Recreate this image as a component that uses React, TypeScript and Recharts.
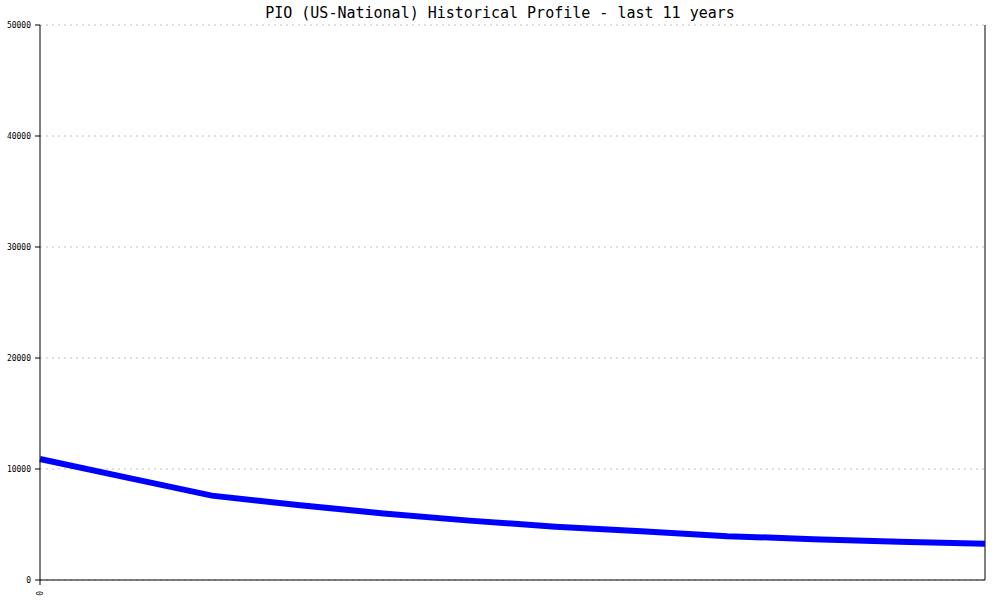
import React from "react";
import { LineChart, Line, XAxis, YAxis, CartesianGrid, ReferenceLine } from "recharts";

const years = [0, 1, 2, 3, 4, 5, 6, 7, 8, 9, 10, 11];
const pioValues = [10900, 9250, 7600, 6750, 6000, 5350, 4800, 4400, 3950, 3680, 3450, 3270];
const yTicks = [0, 10000, 20000, 30000, 40000, 50000];
const xTicks = [0];
const title = "PIO (US-National) Historical Profile - last 11 years";

const data = years.map((t, i) => ({ t, v: pioValues[i] }));

const FONT = "'DejaVu Sans Mono', 'Liberation Mono', monospace";

const XTick = (props: any) => {
  const { x, y, payload } = props;
  return (
    <g transform={`translate(${x},${y})`}>
      <text
        transform="rotate(-90)"
        x={-4}
        y={3}
        textAnchor="end"
        fontFamily={FONT}
        fontSize={8}
        fill="#000"
      >
        {payload.value}
      </text>
    </g>
  );
};

export default function App() {
  return (
    <div style={{ position: "absolute", left: 0, top: 0, width: 1000, height: 600, background: "#fff" }}>
      <div
        style={{
          position: "absolute",
          left: 0,
          top: 4,
          width: 1000,
          textAlign: "center",
          fontFamily: FONT,
          fontSize: 15,
          lineHeight: "18px",
          color: "#000",
        }}
      >
        {title}
      </div>
      <LineChart width={1000} height={600} data={data} margin={{ top: 25, right: 15, left: 0, bottom: 0 }}>
        <CartesianGrid vertical={false} stroke="#c0c0c0" strokeDasharray="2 4" />
        <XAxis
          dataKey="t"
          type="number"
          domain={[0, 11]}
          ticks={xTicks}
          height={20}
          axisLine={{ stroke: "#000", strokeWidth: 1 }}
          tickLine={{ stroke: "#000" }}
          tickSize={5}
          tick={<XTick />}
          interval={0}
        />
        <YAxis
          domain={[0, 50000]}
          ticks={yTicks}
          width={40}
          axisLine={{ stroke: "#000", strokeWidth: 1 }}
          tickLine={{ stroke: "#000" }}
          tickSize={5}
          tickMargin={4}
          tick={{ fontFamily: FONT, fontSize: 8, fill: "#000" }}
          interval={0}
        />
        <ReferenceLine x={11} stroke="#000" strokeWidth={1} ifOverflow="extendDomain" />
        <Line
          type="linear"
          dataKey="v"
          stroke="#0000ff"
          strokeWidth={6}
          dot={false}
          isAnimationActive={false}
        />
      </LineChart>
    </div>
  );
}
